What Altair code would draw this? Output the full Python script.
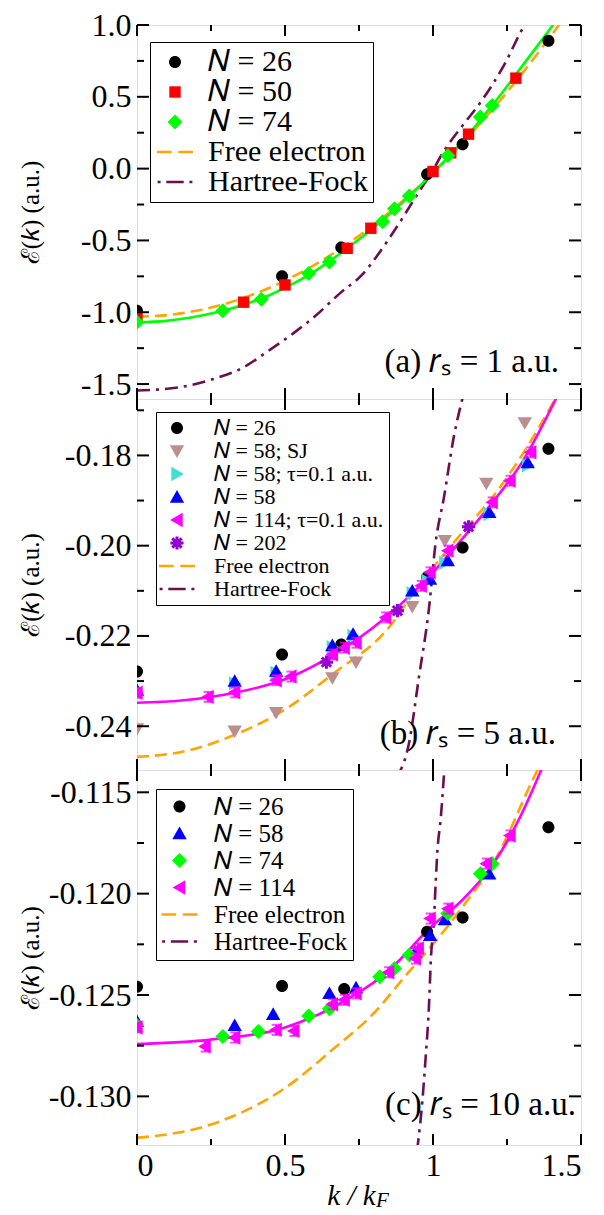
import altair as alt
import pandas as pd

FONT = "Liberation Serif"
W = 444
H_A, H_B, H_C = 374, 371, 375

# ---------------- data: panel (a) r_s = 1 ----------------
a_n26_k = [0.0, 0.49, 0.69, 0.98, 1.10, 1.39]
a_n26_E = [-0.99, -0.75, -0.55, -0.04, 0.17, 0.89]
a_n50_k = [0.0, 0.36, 0.50, 0.71, 0.79, 1.00, 1.06, 1.12, 1.28]
a_n50_E = [-1.03, -0.93, -0.81, -0.555, -0.415, -0.02, 0.11, 0.24, 0.63]
a_n74_k = [0.0, 0.29, 0.42, 0.58, 0.65, 0.83, 0.87, 0.92, 1.05, 1.16, 1.20]
a_n74_E = [-1.07, -0.99, -0.91, -0.73, -0.65, -0.37, -0.28, -0.19, 0.09, 0.36, 0.44]
a_fit_k = [0.0, 0.1, 0.2, 0.3, 0.4, 0.5, 0.6, 0.7, 0.8, 0.9, 1.0, 1.1, 1.2, 1.3, 1.42]
a_fit_E = [-1.07, -1.06, -1.03, -0.985, -0.92, -0.83, -0.715, -0.57, -0.41, -0.23, -0.03, 0.19, 0.44, 0.71, 1.04]
a_free_k = [0.0, 0.1, 0.2, 0.3, 0.4, 0.5, 0.6, 0.7, 0.8, 0.9, 1.0, 1.1, 1.2, 1.3, 1.44]
a_free_E = [-1.03, -1.02, -0.99, -0.94, -0.87, -0.78, -0.67, -0.54, -0.39, -0.22, -0.03, 0.18, 0.41, 0.66, 1.04]
a_hf_k = [0.0, 0.14, 0.25, 0.36, 0.45, 0.54, 0.60, 0.69, 0.76, 0.81, 0.87, 0.95, 1.0, 1.03, 1.10, 1.16, 1.24, 1.31, 1.33]
a_hf_E = [-1.545, -1.523, -1.47, -1.383, -1.26, -1.128, -1.03, -0.86, -0.74, -0.61, -0.43, -0.17, -0.01, 0.10, 0.30, 0.46, 0.72, 1.0, 1.06]

# ---------------- data: panel (b) r_s = 5 ----------------
b_n26_k = [0.0, 0.49, 0.69, 0.98, 1.10, 1.39]
b_n26_E = [-0.2279, -0.2241, -0.2219, -0.2070, -0.2004, -0.1785]
b_sj_k = [0.0, 0.33, 0.47, 0.66, 0.74, 0.93, 1.04, 1.18, 1.31]
b_sj_E = [-0.2406, -0.2411, -0.2370, -0.2293, -0.2258, -0.2135, -0.1989, -0.1862, -0.1728]
b_tau58_k = [0.0, 0.33, 0.47, 0.66, 0.73, 0.93, 0.98, 1.04, 1.19, 1.32]
b_tau58_E = [-0.2322, -0.2305, -0.2282, -0.2225, -0.2200, -0.2105, -0.2078, -0.2038, -0.1930, -0.1822]
b_n58_k = [0.0, 0.33, 0.47, 0.66, 0.73, 0.93, 0.99, 1.05, 1.19, 1.32]
b_n58_E = [-0.2320, -0.2300, -0.2278, -0.2221, -0.2196, -0.2100, -0.2074, -0.2033, -0.1926, -0.1816]
b_n114_k = [0.0, 0.24, 0.33, 0.47, 0.52, 0.66, 0.70, 0.74, 0.84, 0.96, 0.99, 1.05, 1.20, 1.26, 1.33]
b_n114_E = [-0.2326, -0.2335, -0.2325, -0.2298, -0.2290, -0.2241, -0.2226, -0.2215, -0.2159, -0.2089,
            -0.2059, -0.2011, -0.1904, -0.1856, -0.1793]
b_n114_err = [0.0011] * 15
b_n202_k = [0.64, 0.88, 1.12]
b_n202_E = [-0.2258, -0.2144, -0.1958]
b_fit_k = [0.0, 0.15, 0.33, 0.5, 0.66, 0.84, 1.0, 1.1, 1.2, 1.3, 1.43]
b_fit_E = [-0.2348, -0.2343, -0.2326, -0.2296, -0.2243, -0.2159, -0.2059, -0.1984, -0.1905, -0.1816, -0.1655]
b_free_k = [0.0, 0.165, 0.33, 0.5, 0.66, 0.85, 0.95, 1.1, 1.21, 1.3, 1.43]
b_free_E = [-0.2468, -0.2455, -0.2419, -0.2363, -0.2285, -0.2182, -0.2090, -0.1970, -0.1885, -0.1800, -0.1655]
b_hf_k = [0.875, 0.919, 0.953, 0.986, 1.009, 1.037, 1.07, 1.105]
b_hf_E = [-0.2515, -0.2437, -0.2289, -0.2141, -0.1993, -0.1893, -0.1760, -0.1660]

# ---------------- data: panel (c) r_s = 10 ----------------
c_n26_k = [0.0, 0.49, 0.70, 0.98, 1.10, 1.39]
c_n26_E = [-0.12459, -0.12455, -0.1247, -0.12188, -0.12118, -0.11672]
c_n58_k = [0.0, 0.33, 0.46, 0.65, 0.74, 0.94, 0.99, 1.04, 1.19]
c_n58_E = [-0.1263, -0.1265, -0.12595, -0.12492, -0.12464, -0.12287, -0.12205, -0.12128, -0.11902]
c_n74_k = [0.0, 0.29, 0.41, 0.58, 0.65, 0.82, 0.87, 0.92, 1.05, 1.16, 1.20]
c_n74_E = [-0.1265, -0.12705, -0.1268, -0.12603, -0.12568, -0.1241, -0.12369, -0.12303, -0.12098, -0.11902, -0.11852]
c_n114_k = [0.0, 0.23, 0.33, 0.47, 0.53, 0.66, 0.70, 0.74, 0.85, 0.94, 0.95, 0.99, 1.05, 1.18, 1.26]
c_n114_E = [-0.1266, -0.12754, -0.1271, -0.12672, -0.12677, -0.12546, -0.12524, -0.12492, -0.12388, -0.1232,
            -0.1227, -0.12123, -0.12074, -0.11852, -0.11713]
c_n114_err = [0.00025] * 15
c_fit_k = [0.0, 0.25, 0.5, 0.66, 0.84, 1.0, 1.1, 1.2, 1.262, 1.3, 1.38]
c_fit_E = [-0.12742, -0.1272, -0.1266, -0.12562, -0.12393, -0.12155, -0.1203, -0.1186, -0.11713, -0.11605, -0.1134]
c_free_k = [0.0, 0.25, 0.5, 0.66, 0.8, 0.919, 0.964, 1.1, 1.212, 1.341, 1.37]
c_free_E = [-0.13205, -0.13139, -0.12959, -0.1277, -0.1259, -0.12385, -0.12311, -0.12065, -0.11828, -0.11426, -0.1134]
c_hf_k = [0.946, 0.964, 0.975, 0.986, 0.993, 1.003, 1.009, 1.015, 1.026, 1.039]
c_hf_E = [-0.1327, -0.13024, -0.12811, -0.12565, -0.1232, -0.12131, -0.11951, -0.11787, -0.11631, -0.1137]

# ---------------- axes ----------------
x_major = [0, 0.5, 1, 1.5]
x_minor = [0.25, 0.75, 1.25]
a_y_major = [1.0, 0.5, 0.0, -0.5, -1.0, -1.5]
a_y_minor = [0.75, 0.25, -0.25, -0.75, -1.25]
b_y_major = [-0.18, -0.20, -0.22, -0.24]
b_y_minor = [-0.17, -0.19, -0.21, -0.23]
c_y_major = [-0.115, -0.120, -0.125, -0.130]
c_y_minor = [-0.1175, -0.1225, -0.1275]

# ---------------- marker shapes (custom paths) ----------------
SH = {
    "circle": "M1,0A1,1 0 1,1 -1,0A1,1 0 1,1 1,0Z",
    "square": "M-0.95,-0.95H0.95V0.95H-0.95Z",
    "diamond": "M0,-1.25L1.25,0L0,1.25L-1.25,0Z",
    "tri_up": "M0,-1.15L1.2,0.95H-1.2Z",
    "tri_down": "M0,1.15L1.2,-0.95H-1.2Z",
    "tri_right": "M1.15,0L-0.95,1.2V-1.2Z",
    "tri_left": "M-1.15,0L0.95,1.2V-1.2Z",
    "star": ("M-1.1,-0.25H1.1V0.25H-1.1Z M-0.25,-1.1H0.25V1.1H-0.25Z "
             "M0.601,0.955L-0.955,-0.601L-0.601,-0.955L0.955,0.601Z "
             "M-0.601,0.955L-0.955,0.601L0.601,-0.955L0.955,-0.601Z"),
    "dash": "M-3,-0.22H-0.55V0.22H-3Z M0.55,-0.22H3V0.22H0.55Z",
    "dashdot": "M-2.9,-0.22H-2.4V0.22H-2.9Z M-1.45,-0.22H1.45V0.22H-1.45Z M2.4,-0.22H2.9V0.22H2.4Z",
}

BLACK, RED, GREEN, MAG = "#000000", "#FF0000", "#00FF00", "#FF00FF"
BLUE, BROWN, TURQ, PURP = "#0000FF", "#BC8F8F", "#40E0D0", "#9400D3"
ORANGE, HFC = "#FFA500", "#6B0F4F"
FREE, HF = "Free electron", "Hartree-Fock"
NI = "\U0001D441"  # italic N
N26, N50, N58, N74 = NI + " = 26", NI + " = 50", NI + " = 58", NI + " = 74"
N114, N202 = NI + " = 114", NI + " = 202"
N58SJ, N58T, N114T = NI + " = 58; SJ", NI + " = 58; \u03C4=0.1 a.u.", NI + " = 114; \u03C4=0.1 a.u."


def pts(series_list):
    rows = []
    for name, ks, es in series_list:
        for k, e in zip(ks, es):
            rows.append({"k": k, "E": e, "series": name})
    return pd.DataFrame(rows)


def panel(height, ydom, ymaj, ymin, yfmt, series, entries, legend_kw,
          fit, fit_color, free, hf, err, label, label_dx, label_dy, show_x):
    xs = alt.Scale(domain=[0, 1.5], nice=False, zero=False)
    ys = alt.Scale(domain=ydom, nice=False, zero=False)
    names = [e[0] for e in entries]
    colors = [e[1] for e in entries]
    shapes = [e[2] for e in entries]

    if show_x:
        xaxis = alt.Axis(values=x_major, labelExpr="format(datum.value, '~g')", ticks=False,
                         domain=False, grid=False, labelFont=FONT, labelFontSize=32,
                         labelPadding=5, title="k / k", titleFont=FONT, titleFontSize=29,
                         titleFontStyle="italic", titleFontWeight="normal", titlePadding=0,
                         titleX=W / 2 - 8)
    else:
        xaxis = None
    yaxis = alt.Axis(values=ymaj, labelExpr="replace(format(datum.value, '%s'), '\u2212', '-')" % yfmt,
                     ticks=False, domain=False, grid=False, labelFont=FONT, labelFontSize=32,
                     labelPadding=6, minExtent=88, maxExtent=88,
                     title="\u2130(\U0001D458) (a.u.)", titleFont=FONT, titleFontSize=25,
                     titleFontWeight="normal", titlePadding=6)

    def X(f):
        return alt.X(f, scale=xs, axis=xaxis)

    def Y(f):
        return alt.Y(f, scale=ys, axis=yaxis)

    layers = []

    def line(ks, es, color, dash=None):
        kw = dict(clip=True, color=color, strokeWidth=2.6, interpolate="monotone")
        if dash:
            kw["strokeDash"] = dash
        return alt.Chart(pd.DataFrame({"k": ks, "E": es})).mark_line(**kw).encode(
            x=X("k:Q"), y=Y("E:Q"))

    layers.append(line(*free, ORANGE, [12, 6]))
    layers.append(line(*hf, HFC, [13, 6, 3, 6]))
    layers.append(line(*fit, fit_color, None))

    pdf = pts(series)
    leg = alt.Legend(title=None, orient="none", fillColor="white", strokeColor="black",
                     symbolSize=144, symbolStrokeWidth=0, symbolOpacity=1, labelFont=FONT,
                     labelLimit=0, **legend_kw)
    layers.append(alt.Chart(pdf).mark_point(filled=True, size=144, opacity=1, strokeWidth=0, clip=True).encode(
        x=X("k:Q"), y=Y("E:Q"),
        color=alt.Color("series:N", scale=alt.Scale(domain=names, range=colors), legend=leg),
        shape=alt.Shape("series:N", scale=alt.Scale(domain=names, range=shapes), legend=leg),
        order=alt.Order("idx:Q"),
    ).transform_window(idx="row_number()"))

    if err is not None:
        ek, ee, eerr = err
        edf = pd.DataFrame({"k": ek, "E": [e - d for e, d in zip(ee, eerr)],
                            "hi": [e + d for e, d in zip(ee, eerr)]})
        layers.append(alt.Chart(edf).mark_rule(color=MAG, strokeWidth=2, clip=True).encode(
            x=X("k:Q"), y=Y("E:Q"), y2="hi:Q"))
        for f in ["E", "hi"]:
            layers.append(alt.Chart(edf).mark_tick(color=MAG, orient="horizontal", size=9, thickness=2,
                                                   clip=True).encode(x=X("k:Q"), y=Y(f + ":Q")))

    # inward ticks on all four sides
    for vals, L in [(x_major, 11), (x_minor, 6)]:
        tdf = pd.DataFrame({"k": vals})
        layers.append(alt.Chart(tdf).mark_rule(color="black", strokeWidth=2).encode(
            x=X("k:Q"), y=alt.value(height), y2=alt.value(height - L)))
        layers.append(alt.Chart(tdf).mark_rule(color="black", strokeWidth=2).encode(
            x=X("k:Q"), y=alt.value(0), y2=alt.value(L)))
    for vals, L in [(ymaj, 12), (ymin, 7)]:
        tdf = pd.DataFrame({"E": vals})
        layers.append(alt.Chart(tdf).mark_rule(color="black", strokeWidth=2).encode(
            y=Y("E:Q"), x=alt.value(0), x2=alt.value(L)))
        layers.append(alt.Chart(tdf).mark_rule(color="black", strokeWidth=2).encode(
            y=Y("E:Q"), x=alt.value(W), x2=alt.value(W - L)))

    layers.append(alt.Chart(pd.DataFrame({"t": [label]})).mark_text(
        font=FONT, fontSize=33, align="right", baseline="alphabetic", color="black").encode(
        text="t:N", x=alt.value(W - label_dx), y=alt.value(height - label_dy)))

    if show_x:
        layers.append(alt.Chart(pd.DataFrame({"t": ["F"]})).mark_text(
            font=FONT, fontSize=21, fontStyle="italic", align="left", baseline="alphabetic",
            color="black").encode(text="t:N", x=alt.value(W / 2 + 17), y=alt.value(height + 62)))

    return alt.layer(*layers).properties(width=W, height=height)


pa = panel(
    H_A, [-1.604, 1.0], a_y_major, a_y_minor, ".1f",
    [(N26, a_n26_k, a_n26_E), (N50, a_n50_k, a_n50_E), (N74, a_n74_k, a_n74_E)],
    [(N26, BLACK, SH["circle"]), (N50, RED, SH["square"]), (N74, GREEN, SH["diamond"]),
     (FREE, ORANGE, SH["dash"]), (HF, HFC, SH["dashdot"])],
    dict(legendX=13, legendY=17, labelFontSize=30, padding=5, symbolOffset=5, labelOffset=18,
         rowPadding=0),
    (a_fit_k, a_fit_E), GREEN, (a_free_k, a_free_E), (a_hf_k, a_hf_E), None,
    "(a) \U0001D45F\u209B = 1 a.u.", 22, 27, False)

pb = panel(
    H_B, [-0.2497, -0.1675], b_y_major, b_y_minor, ".2f",
    [(N26, b_n26_k, b_n26_E), (N58SJ, b_sj_k, b_sj_E), (N58T, b_tau58_k, b_tau58_E),
     (N58, b_n58_k, b_n58_E), (N114T, b_n114_k, b_n114_E), (N202, b_n202_k, b_n202_E)],
    [(N26, BLACK, SH["circle"]), (N58SJ, BROWN, SH["tri_down"]), (N58T, TURQ, SH["tri_right"]),
     (N58, BLUE, SH["tri_up"]), (N114T, MAG, SH["tri_left"]), (N202, PURP, SH["star"]),
     (FREE, ORANGE, SH["dash"]), (HF, HFC, SH["dashdot"])],
    dict(legendX=19, legendY=13, labelFontSize=22, padding=5, symbolOffset=5, labelOffset=26,
         rowPadding=1),
    (b_fit_k, b_fit_E), MAG, (b_free_k, b_free_E), (b_hf_k, b_hf_E),
    (b_n114_k, b_n114_E, b_n114_err),
    "(b) \U0001D45F\u209B = 5 a.u.", 25, 26, False)

pc = panel(
    H_C, [-0.1324, -0.1139], c_y_major, c_y_minor, ".3f",
    [(N26, c_n26_k, c_n26_E), (N58, c_n58_k, c_n58_E), (N74, c_n74_k, c_n74_E),
     (N114, c_n114_k, c_n114_E)],
    [(N26, BLACK, SH["circle"]), (N58, BLUE, SH["tri_up"]), (N74, GREEN, SH["diamond"]),
     (N114, MAG, SH["tri_left"]), (FREE, ORANGE, SH["dash"]), (HF, HFC, SH["dashdot"])],
    dict(legendX=19, legendY=19, labelFontSize=25, padding=5, symbolOffset=6, labelOffset=22,
         rowPadding=1),
    (c_fit_k, c_fit_E), MAG, (c_free_k, c_free_E), (c_hf_k, c_hf_E),
    (c_n114_k, c_n114_E, c_n114_err),
    "(c) \U0001D45F\u209B = 10 a.u.", 5, 30, True)

chart = alt.vconcat(pa, pb, pc, spacing=0, bounds="flush").resolve_scale(
    y="independent", color="independent", shape="independent"
).resolve_legend(color="independent", shape="independent").properties(
    padding={"left": 9, "top": 0, "right": 0, "bottom": 0}
).configure_view(stroke="black", strokeWidth=2).configure(background="white")

chart.save("out.html", embed_options={"renderer": "svg", "actions": False})
